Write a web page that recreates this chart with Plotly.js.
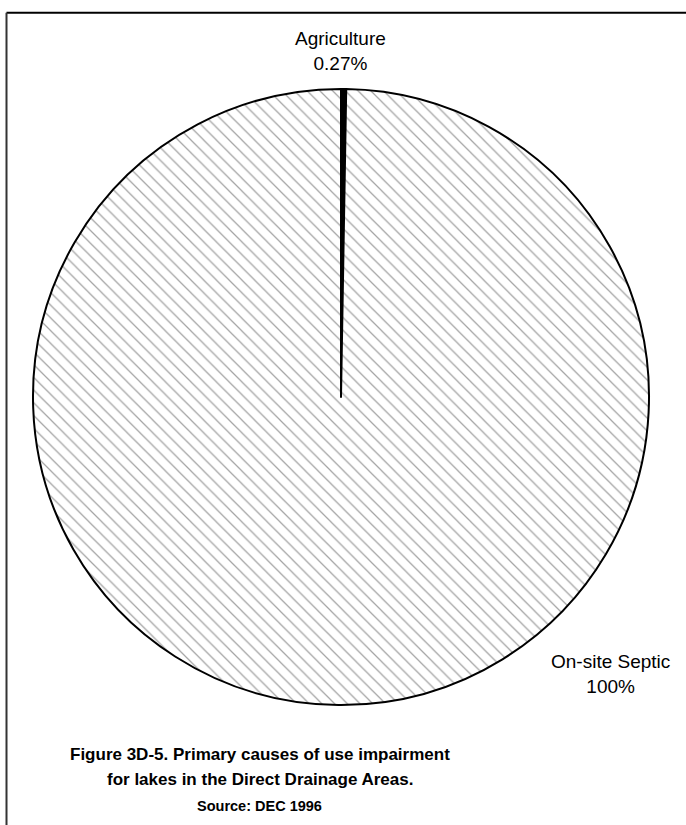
<!DOCTYPE html>
<html>
<head>
<meta charset="utf-8">
<script src="https://cdn.plot.ly/plotly-2.35.2.min.js"></script>
<style>
  html, body { margin: 0; padding: 0; background: #fff; }
  #chart { width: 686px; height: 825px; }
</style>
</head>
<body>
<div id="chart"></div>
<script>
// Data
var categories = ["Agriculture", "On-site Septic"];
var values = [0.27, 99.73];
var percentLabels = ["0.27%", "100%"];
var titleLines = ["Figure 3D-5. Primary causes of use impairment", "for lakes in the Direct Drainage Areas."];
var sourceText = "Source: DEC 1996";

var W = 686, H = 825;
function px(x) { return x / W; }
function py(y) { return 1 - y / H; }

var cx = 341, cy = 397, r = 308;

var trace = {
  type: "pie",
  labels: categories,
  values: values,
  sort: false,
  direction: "clockwise",
  rotation: 0,
  textinfo: "none",
  hoverinfo: "label+percent",
  showlegend: false,
  domain: { x: [px(cx - r), px(cx + r)], y: [py(cy + r), py(cy - r)] },
  marker: {
    colors: ["#000000", "#ffffff"],
    line: { color: "#000000", width: 2 },
    pattern: {
      shape: ["", "\\"],
      fgcolor: "#4a4a4a",
      bgcolor: "#ffffff",
      size: 9,
      solidity: 0.14,
      fillmode: "overlay"
    }
  }
};

var labelFont = { family: "Liberation Sans, Arial, sans-serif", size: 19, color: "#000" };
var titleFont = { family: "Liberation Sans, Arial, sans-serif", size: 17, color: "#000" };
var annotations = [
  { x: px(340), y: py(51), xref: "paper", yref: "paper", xanchor: "center", yanchor: "middle",
    text: categories[0] + "<br>" + percentLabels[0], showarrow: false, font: labelFont, align: "center" },
  { x: px(610), y: py(674), xref: "paper", yref: "paper", xanchor: "center", yanchor: "middle",
    text: categories[1] + "<br>" + percentLabels[1], showarrow: false, font: labelFont, align: "center" },
  { x: px(260), y: py(754), xref: "paper", yref: "paper", xanchor: "center", yanchor: "middle",
    text: "<b>" + titleLines[0] + "</b>", showarrow: false, font: titleFont },
  { x: px(260), y: py(779), xref: "paper", yref: "paper", xanchor: "center", yanchor: "middle",
    text: "<b>" + titleLines[1] + "</b>", showarrow: false, font: titleFont },
  { x: px(259), y: py(806), xref: "paper", yref: "paper", xanchor: "center", yanchor: "middle",
    text: "<b>" + sourceText + "</b>", showarrow: false,
    font: { family: "Liberation Sans, Arial, sans-serif", size: 14.5, color: "#000" } }
];

var layout = {
  width: W, height: H,
  margin: { l: 0, r: 0, t: 0, b: 0 },
  paper_bgcolor: "#ffffff",
  showlegend: false,
  annotations: annotations,
  shapes: [
    { type: "line", xref: "paper", yref: "paper", x0: px(6.5), x1: 1, y0: py(12.7), y1: py(12.7),
      line: { color: "#000", width: 2 } },
    { type: "line", xref: "paper", yref: "paper", x0: px(6.5), x1: px(6.5), y0: py(12.7), y1: 0,
      line: { color: "#333", width: 2 } }
  ]
};

Plotly.newPlot("chart", [trace], layout, { displayModeBar: false, staticPlot: true });
</script>
</body>
</html>
